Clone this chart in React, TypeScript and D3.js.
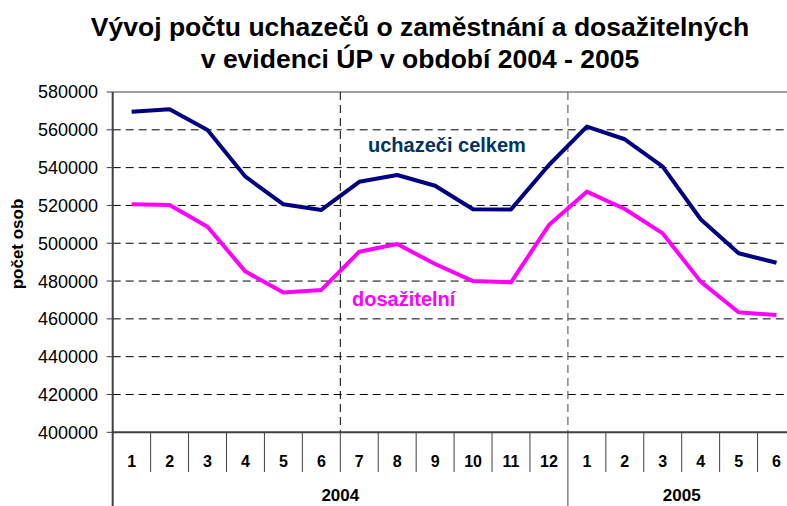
import React from "react";
import * as d3 from "d3";

const months = ["1","2","3","4","5","6","7","8","9","10","11","12","1","2","3","4","5","6"];
const years = ["2004", "2005"];
const yearCounts = [12, 6];
const uchazeci = [569600,570900,559900,535200,520600,517600,532500,536100,530400,518000,517900,541400,561700,555000,540500,512700,494700,489700];
const dosazitelni = [520600,520200,508700,485000,474000,475300,495500,499600,489000,480000,479300,509600,527300,518100,505200,479700,463500,462000];
const yTicks = [400000,420000,440000,460000,480000,500000,520000,540000,560000,580000];
const titleLines = ["Vývoj počtu uchazečů o zaměstnání a dosažitelných", "v evidenci ÚP v období 2004 - 2005"];

const W = 787, H = 506;
const left = 112.7, right = 795.5, top = 92, bottom = 432.3;

export default function App() {
  const idx = months.map((_, i) => i);
  const x = d3.scaleBand<number>().domain(idx).range([left, right]).paddingInner(0).paddingOuter(0);
  const y = d3.scaleLinear().domain([400000, 580000]).range([bottom, top]);
  const cx = (i: number) => (x(i) as number) + x.bandwidth() / 2;
  const line = d3.line<number>().x((_, i) => cx(i)).y((d) => y(d));
  const font = "'Liberation Sans', Arial, sans-serif";
  const bw = x.bandwidth();
  let acc = 0;
  const yearSpans = yearCounts.map((c, k) => {
    const s = acc; acc += c;
    return { label: years[k], x0: x(s) as number, x1: (x(s) as number) + c * bw };
  });
  const halfYear = (x(6) as number);
  const yearLine = (x(12) as number);
  return (
    <svg width={W} height={H} style={{ position: "absolute", left: 0, top: 0, background: "#fff" }} fontFamily={font}>
      <rect x={0} y={0} width={W} height={H} fill="#fff" />
      {titleLines.map((t, i) => (
        <text key={i} x={420} y={36 + i * 32} textAnchor="middle" fontWeight="bold" fontSize={26.5} fill="#000">{t}</text>
      ))}
      {yTicks.slice(1, -1).map((v) => (
        <line key={v} x1={left} x2={right} y1={y(v)} y2={y(v)} stroke="#000" strokeWidth={1} strokeDasharray="8,5" />
      ))}
      <line x1={left} x2={right} y1={top} y2={top} stroke="#808080" strokeWidth={1.5} />
      <line x1={halfYear} x2={halfYear} y1={top} y2={bottom} stroke="#000" strokeWidth={1} strokeDasharray="8,5" />
      <line x1={yearLine} x2={yearLine} y1={top} y2={bottom} stroke="#666" strokeWidth={1.2} strokeDasharray="8,5" />
      <line x1={left} x2={left} y1={top} y2={H} stroke="#404040" strokeWidth={2} />
      {yTicks.map((v) => (
        <g key={v}>
          <line x1={left - 6} x2={left} y1={y(v)} y2={y(v)} stroke="#404040" strokeWidth={1} />
          <text x={98} y={y(v)} dy="0.36em" textAnchor="end" fontSize={18} fill="#000">{v}</text>
        </g>
      ))}
      <text transform={`translate(23,244) rotate(-90)`} textAnchor="middle" fontWeight="bold" fontSize={17} fill="#000">počet osob</text>
      <line x1={left} x2={right} y1={bottom} y2={bottom} stroke="#404040" strokeWidth={2} />
      {idx.slice(1).map((i) => (
        <line key={i} x1={x(i) as number} x2={x(i) as number} y1={bottom} y2={i === 12 ? H : 472} stroke="#404040" strokeWidth={1} />
      ))}
      {months.map((m, i) => (
        <text key={i} x={cx(i)} y={467} textAnchor="middle" fontWeight="bold" fontSize={16} fill="#000">{m}</text>
      ))}
      {yearSpans.map((s) => (
        <text key={s.label} x={(s.x0 + s.x1) / 2} y={501} textAnchor="middle" fontWeight="bold" fontSize={17} fill="#000">{s.label}</text>
      ))}
      <path d={line(uchazeci) as string} fill="none" stroke="#000080" strokeWidth={4} strokeLinejoin="round" />
      <path d={line(dosazitelni) as string} fill="none" stroke="#ff00ff" strokeWidth={4} strokeLinejoin="round" />
      <text x={368} y={152} fontWeight="bold" fontSize={20} fill="#003366">uchazeči celkem</text>
      <text x={352} y={306} fontWeight="bold" fontSize={20} fill="#ff00ff">dosažitelní</text>
    </svg>
  );
}
